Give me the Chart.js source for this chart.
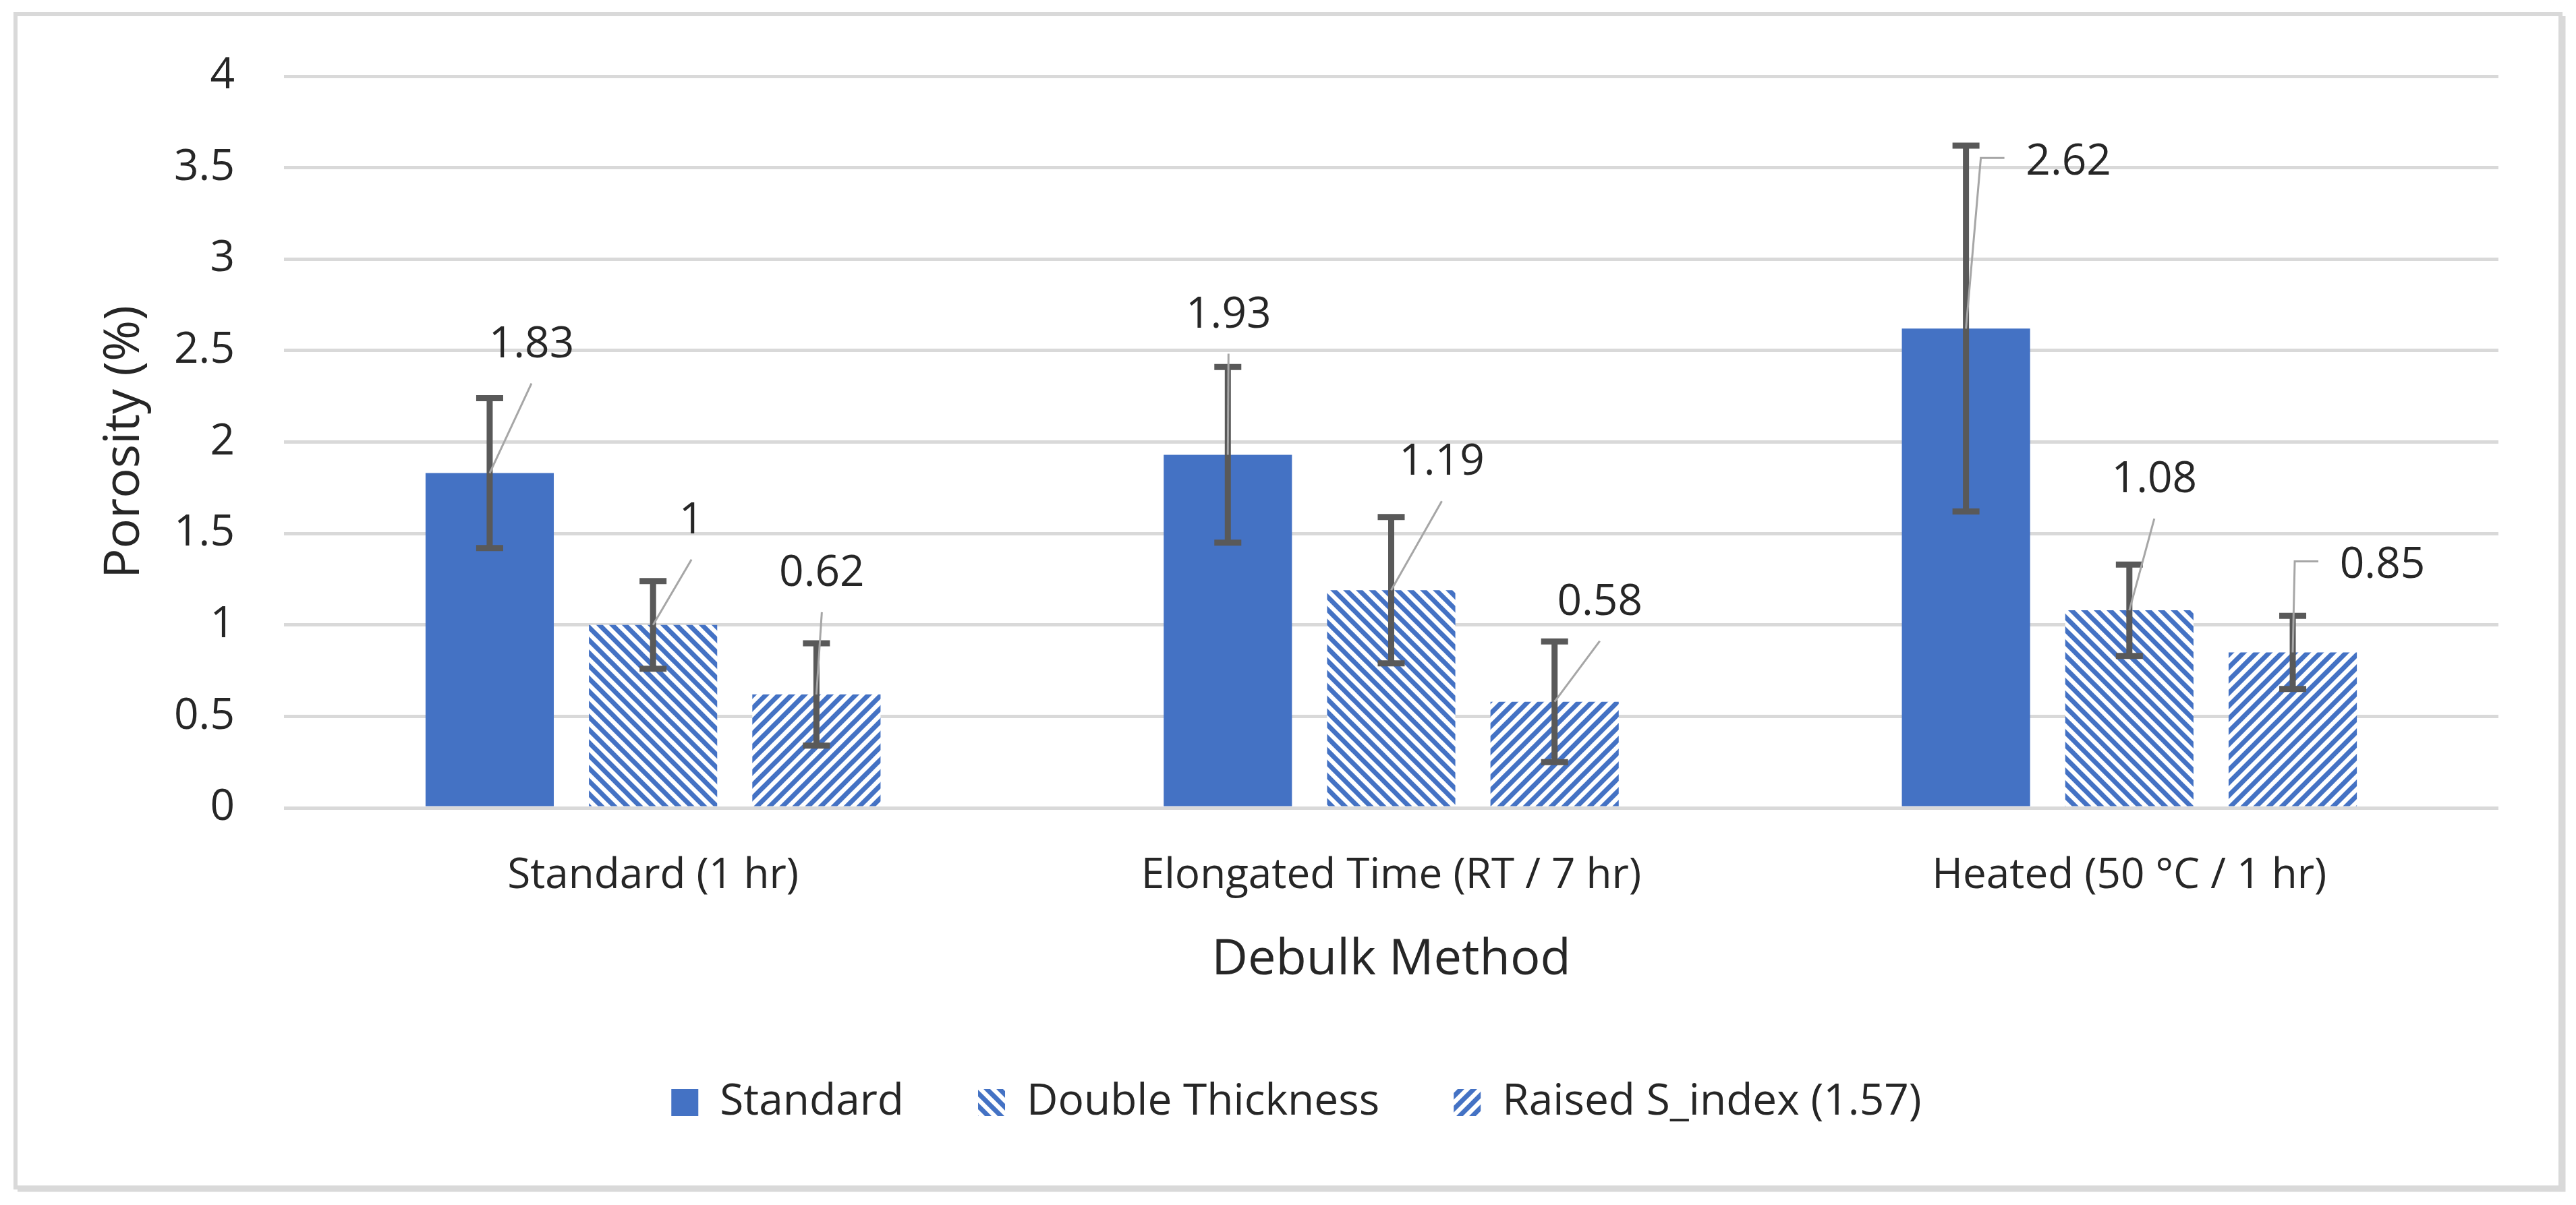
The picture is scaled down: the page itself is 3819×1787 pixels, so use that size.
<!DOCTYPE html>
<html>
<head>
<meta charset="utf-8">
<title>Porosity by debulk method</title>
<script src="https://cdn.jsdelivr.net/npm/chart.js@4.4.1/dist/chart.umd.min.js"></script>
<style>
  html, body { margin: 0; padding: 0; background: #fff; }
  #wrap { width: 3819px; height: 1787px; position: relative; }
</style>
</head>
<body>
<div id="wrap"><canvas id="porosityChart"></canvas></div>
<script>
// data
const categories = ['Standard (1 hr)', 'Elongated Time (RT / 7 hr)', 'Heated (50 °C / 1 hr)'];
const seriesNames = ['Standard', 'Double Thickness', 'Raised S_index (1.57)'];
const standardValues = [1.83, 1.93, 2.62];
const doubleValues = [1, 1.19, 1.08];
const raisedValues = [0.62, 0.58, 0.85];
const standardErrors = [0.41, 0.48, 1.0];
const doubleErrors = [0.24, 0.40, 0.25];
const raisedErrors = [0.28, 0.33, 0.20];
const yTickValues = [0, 0.5, 1, 1.5, 2, 2.5, 3, 3.5, 4];
const yTickLabels = ['0', '0.5', '1', '1.5', '2', '2.5', '3', '3.5', '4'];

// where each value label sits relative to the top of its bar (px) and how its leader is drawn
const labelPlacement = [
    [[62, -190, 'line'], [1, -207, 'line'], [152, -247, 'elbow']],
    [[57, -154, 'line'], [75, -189, 'line'], [37, -193, 'line']],
    [[8, -179, 'line'], [67, -147, 'line'], [133, -129, 'elbow']]
];

const FONT = "'Open Sans', 'DejaVu Sans', sans-serif";
const BLUE = '#4472C4';
const TEXT = '#262626';

function stripes(dir) {
    const size = 19;
    const c = document.createElement('canvas');
    c.width = c.height = size;
    const g = c.getContext('2d');
    g.fillStyle = '#fff';
    g.fillRect(0, 0, size, size);
    g.strokeStyle = BLUE;
    g.lineWidth = 7;
    for (let k = -1; k <= 1; k++) {
        g.beginPath();
        if (dir === 'down') {
            g.moveTo(k * size - 5, -5);
            g.lineTo(k * size + size + 5, size + 5);
        } else {
            g.moveTo(k * size - 5, size + 5);
            g.lineTo(k * size + size + 5, -5);
        }
        g.stroke();
    }
    return g.createPattern(c, 'repeat');
}

const errorSets = [standardErrors, doubleErrors, raisedErrors];

const annotate = {
    id: 'annotate',
    afterLayout(chart) {
        // the built-in legend counts trailing padding when centring; nudge it back
        if (chart.legend) {
            chart.legend.left += 70;
            chart.legend.right += 70;
        }
    },
    beforeDraw(chart) {
        const ctx = chart.ctx;
        ctx.save();
        ctx.fillStyle = '#fff';
        ctx.fillRect(0, 0, chart.width, chart.height);
        ctx.strokeStyle = '#d9d9d9';
        ctx.lineWidth = 6;
        ctx.strokeRect(23, 21, 3773, 1740);
        ctx.lineWidth = 5;
        ctx.beginPath();
        ctx.moveTo(3801, 24);
        ctx.lineTo(3801, 1765);
        ctx.lineTo(26, 1765);
        ctx.stroke();
        ctx.restore();
    },
    afterDatasetsDraw(chart) {
        const ctx = chart.ctx;
        const y = chart.scales.y;
        ctx.save();
        // error bars
        chart.data.datasets.forEach((ds, di) => {
            const meta = chart.getDatasetMeta(di);
            meta.data.forEach((bar, i) => {
                const v = ds.data[i];
                const e = errorSets[di][i];
                const top = y.getPixelForValue(v + e);
                const bot = y.getPixelForValue(v - e);
                ctx.strokeStyle = '#595959';
                ctx.lineWidth = 9;
                ctx.lineCap = 'butt';
                ctx.beginPath();
                ctx.moveTo(bar.x, top);
                ctx.lineTo(bar.x, bot);
                ctx.moveTo(bar.x - 20, top);
                ctx.lineTo(bar.x + 20, top);
                ctx.moveTo(bar.x - 20, bot);
                ctx.lineTo(bar.x + 20, bot);
                ctx.stroke();
            });
        });
        // leader lines and value labels
        ctx.font = '64px ' + FONT;
        ctx.textAlign = 'center';
        ctx.textBaseline = 'middle';
        chart.data.datasets.forEach((ds, di) => {
            const meta = chart.getDatasetMeta(di);
            meta.data.forEach((bar, i) => {
                const [dx, dy, kind] = labelPlacement[di][i];
                const lx = bar.x + dx;
                const ly = bar.y + dy;
                ctx.strokeStyle = '#a6a6a6';
                ctx.lineWidth = 3;
                ctx.beginPath();
                ctx.moveTo(bar.x, bar.y);
                if (kind === 'elbow') {
                    ctx.lineTo(lx - 130, ly - 6);
                    ctx.lineTo(lx - 95, ly - 6);
                } else {
                    ctx.lineTo(lx, ly + 57);
                }
                ctx.stroke();
                ctx.fillStyle = TEXT;
                ctx.fillText(String(ds.data[i]), lx, ly);
            });
        });
        ctx.restore();
    }
};

function initializeChart() {
    const ctx = document.getElementById('porosityChart');
    new Chart(ctx.getContext('2d'), {
        type: 'bar',
        data: {
            labels: categories,
            datasets: [{
                label: seriesNames[0],
                data: standardValues,
                backgroundColor: BLUE
            }, {
                label: seriesNames[1],
                data: doubleValues,
                backgroundColor: stripes('down')
            }, {
                label: seriesNames[2],
                data: raisedValues,
                backgroundColor: stripes('up')
            }].map(d => Object.assign(d, {
                borderWidth: 0,
                categoryPercentage: 0.664,
                barPercentage: 0.785
            }))
        },
        options: {
            responsive: true,
            maintainAspectRatio: false,
            animation: false,
            devicePixelRatio: 1,
            layout: { padding: { top: 113, right: 115, bottom: 110, left: 0 } },
            plugins: {
                legend: {
                    position: 'bottom',
                    labels: {
                        boxWidth: 40,
                        boxHeight: 40,
                        padding: 110,
                        color: TEXT,
                        font: { family: FONT, size: 64 }
                    }
                },
                tooltip: { enabled: false }
            },
            scales: {
                x: {
                    grid: { display: false },
                    border: { display: false },
                    ticks: { color: TEXT, font: { family: FONT, size: 62 }, padding: 56, maxRotation: 0 },
                    title: {
                        display: true,
                        text: 'Debulk Method',
                        color: TEXT,
                        font: { family: FONT, size: 74 },
                        padding: { top: 0, bottom: 25 }
                    },
                    afterFit(scale) { scale.height = 295; }
                },
                y: {
                    min: 0,
                    max: 4,
                    grid: { color: '#d9d9d9', lineWidth: 5, drawTicks: false },
                    border: { display: false },
                    ticks: {
                        color: TEXT,
                        font: { family: FONT, size: 64 },
                        padding: 73,
                        callback: (value, index) => yTickLabels[index]
                    },
                    afterBuildTicks(scale) { scale.ticks = yTickValues.map(v => ({ value: v })); },
                    title: {
                        display: true,
                        text: 'Porosity (%)',
                        color: TEXT,
                        font: { family: FONT, size: 74 },
                        padding: { top: 141, bottom: 0 }
                    },
                    afterFit(scale) { scale.width = 421; }
                }
            }
        },
        plugins: [annotate]
    });
}

initializeChart();
</script>
</body>
</html>
